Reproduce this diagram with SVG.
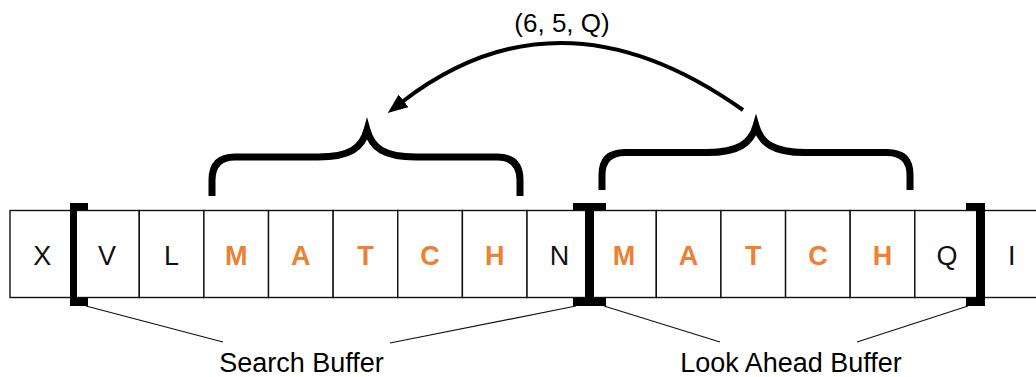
<svg xmlns="http://www.w3.org/2000/svg" width="1036" height="377" viewBox="0 0 1036 377">
<defs>
<style>
.cell{fill:#fff;stroke:#111;stroke-width:1.4}
.t{font-family:"Liberation Sans",Arial,sans-serif;font-size:27px;text-anchor:middle;fill:#111}
.o{fill:#EF7F33;font-weight:bold}
.brace{fill:none;stroke:#000;stroke-width:7}
.lead{fill:none;stroke:#111;stroke-width:1.2}
.lbl{font-family:"Liberation Sans",Arial,sans-serif;font-size:27px;text-anchor:middle;fill:#000}
</style>
<marker id="ah" markerUnits="userSpaceOnUse" markerWidth="22" markerHeight="18" refX="2" refY="8" orient="auto">
<path d="M0,0 L20,8 L0,16 z" fill="#000"/>
</marker>
</defs>
<g id="cells">
<rect class="cell" x="10" y="210.5" width="64.63" height="87"/>
<rect class="cell" x="74.63" y="210.5" width="64.63" height="87"/>
<rect class="cell" x="139.26" y="210.5" width="64.63" height="87"/>
<rect class="cell" x="203.89" y="210.5" width="64.63" height="87"/>
<rect class="cell" x="268.52" y="210.5" width="64.63" height="87"/>
<rect class="cell" x="333.15" y="210.5" width="64.63" height="87"/>
<rect class="cell" x="397.78" y="210.5" width="64.63" height="87"/>
<rect class="cell" x="462.41" y="210.5" width="64.63" height="87"/>
<rect class="cell" x="527.04" y="210.5" width="64.63" height="87"/>
<rect class="cell" x="591.67" y="210.5" width="64.63" height="87"/>
<rect class="cell" x="656.3" y="210.5" width="64.63" height="87"/>
<rect class="cell" x="720.93" y="210.5" width="64.63" height="87"/>
<rect class="cell" x="785.56" y="210.5" width="64.63" height="87"/>
<rect class="cell" x="850.19" y="210.5" width="64.63" height="87"/>
<rect class="cell" x="914.82" y="210.5" width="64.63" height="87"/>
<rect class="cell" x="979.45" y="210.5" width="64.63" height="87"/>
</g>
<g id="letters">
<text class="t" x="42.3" y="265">X</text>
<text class="t" x="107" y="265">V</text>
<text class="t" x="171.6" y="265">L</text>
<text class="t o" x="236.2" y="265">M</text>
<text class="t o" x="300.8" y="265">A</text>
<text class="t o" x="365.5" y="265">T</text>
<text class="t o" x="430.1" y="265">C</text>
<text class="t o" x="494.7" y="265">H</text>
<text class="t" x="559.4" y="265">N</text>
<text class="t o" x="624" y="265">M</text>
<text class="t o" x="688.6" y="265">A</text>
<text class="t o" x="753.3" y="265">T</text>
<text class="t o" x="817.9" y="265">C</text>
<text class="t o" x="882.5" y="265">H</text>
<text class="t" x="947.1" y="265">Q</text>
<text class="t" x="1011.8" y="265">I</text>
</g>
<g id="brackets" fill="#000">
<path d="M70,203 H88 V210 H77 V298 H88 V306 H70 Z"/>
<path d="M573,203 H606 V210 H594 V298 H606 V306 H573 V298 H585 V210 H573 Z"/>
<path d="M966,203 H985 V306 H966 V298 H976 V210 H966 Z"/>
</g>
<g id="search-brace">
<path class="brace" d="M212,196 V180 Q212,157 235,157 H318 C350,157 362,148 367,130 C372,148 384,157 416,157 H497 Q520,157 520,180 V196"/>
</g>
<g id="lookahead-brace">
<path class="brace" d="M602,190 V175 Q602,152.5 625,152.5 H707 C739,152.5 751,143 756,126 C761,143 773,152.5 805,152.5 H887 Q910,152.5 910,175 V190"/>
</g>
<g id="connectors">
<path d="M743,110 Q560,-20 402,102" fill="none" stroke="#000" stroke-width="4" marker-end="url(#ah)"/>
<line class="lead" x1="86" y1="306" x2="223" y2="342"/>
<line class="lead" x1="576" y1="306" x2="390" y2="343"/>
<line class="lead" x1="604" y1="306" x2="720" y2="342"/>
<line class="lead" x1="968" y1="306" x2="857" y2="342"/>
</g>
<g id="labels">
<text class="lbl" x="562" y="32" style="font-size:26px">(6, 5, Q)</text>
<text class="lbl" x="301.5" y="372">Search Buffer</text>
<text class="lbl" x="791" y="372">Look Ahead Buffer</text>
</g>
</svg>
